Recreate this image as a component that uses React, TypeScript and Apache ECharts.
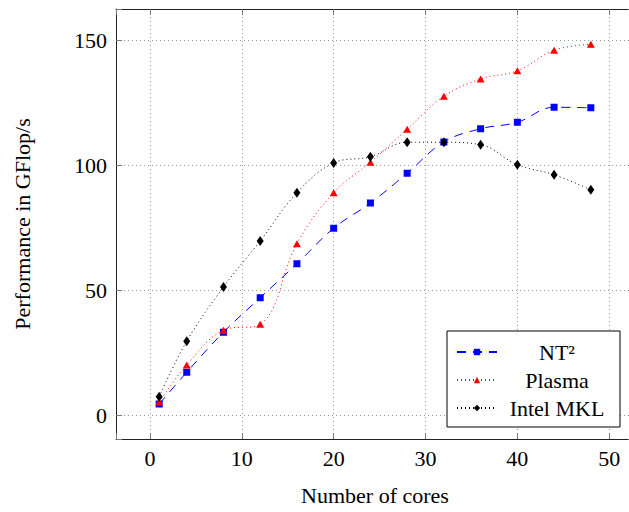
import React, { useEffect, useRef } from "react";
import * as echarts from "echarts";

const cores = [1, 4, 8, 12, 16, 20, 24, 28, 32, 36, 40, 44, 48];
const nt2 = [4.5, 17.2, 33.2, 47.0, 60.6, 74.8, 84.9, 96.8, 109.3, 114.6, 117.2, 123.2, 123.0];
const plasma = [5.3, 20.1, 34.0, 36.4, 68.6, 89.0, 101.2, 114.4, 127.6, 134.5, 137.8, 146.0, 148.4];
const mkl = [7.4, 29.6, 51.3, 69.7, 89.0, 100.9, 103.4, 109.2, 109.2, 108.2, 100.2, 96.2, 90.2];
const seriesNames = ["NT²", "Plasma", "Intel MKL"];

const FONT = "Liberation Serif";

export default function App() {
  const ref = useRef<HTMLDivElement>(null);
  useEffect(() => {
    if (!ref.current) return;
    const chart = echarts.init(ref.current, undefined, { renderer: "svg" });
    const pairs = (ys: number[]) => cores.map((c, i) => [c, ys[i]]);
    const xMin = -3.7, xMax = 52.7, yMin = -9.5, yMax = 162.5;
    const fmt = (step: number) => (v: number) =>
      Math.abs(v / step - Math.round(v / step)) < 1e-6 ? String(Math.round(v)) : "";
    const tick = { show: true, inside: true, length: 6, lineStyle: { color: "#777", width: 1 } };
    const axLine = { show: true, onZero: false, lineStyle: { color: "#222", width: 1 } };
    const grid = { show: true, lineStyle: { type: [1, 3], color: "#999", width: 1 } };
    chart.setOption({
      animation: false,
      backgroundColor: "#fff",
      textStyle: { fontFamily: FONT },
      grid: { left: 116, top: 9, width: 518, height: 430, containLabel: false, outerBoundsMode: "none" },
      xAxis: [
        {
          type: "value", position: "bottom", min: xMin, max: xMax,
          splitNumber: 5, minInterval: 10, maxInterval: 10,
          axisLine: axLine, axisTick: tick, splitLine: grid,
          axisLabel: { formatter: fmt(10), fontSize: 22, color: "#000", margin: 8, fontFamily: FONT },
          name: "Number of cores", nameLocation: "middle", nameGap: 45,
          nameTextStyle: { fontSize: 22, color: "#000", fontFamily: FONT },
        },
        {
          type: "value", position: "top", min: xMin, max: xMax,
          splitNumber: 5, minInterval: 10, maxInterval: 10,
          axisLine: axLine, axisTick: tick, splitLine: { show: false },
          axisLabel: { show: false },
        },
      ],
      yAxis: [
        {
          type: "value", position: "left", min: yMin, max: yMax,
          splitNumber: 3, minInterval: 50, maxInterval: 50,
          axisLine: axLine, axisTick: tick, splitLine: grid,
          axisLabel: { formatter: fmt(50), fontSize: 22, color: "#000", margin: 9, fontFamily: FONT },
          name: "Performance in GFlop/s", nameLocation: "middle", nameGap: 83,
          nameTextStyle: { fontSize: 22, color: "#000", fontFamily: FONT },
        },
        {
          type: "value", position: "right", min: yMin, max: yMax,
          splitNumber: 3, minInterval: 50, maxInterval: 50,
          axisLine: axLine, axisTick: tick, splitLine: { show: false },
          axisLabel: { show: false },
        },
      ],
      legend: {
        orient: "vertical", left: 447, top: 331,
        padding: [10, 8, 8, 9], itemGap: 6, itemWidth: 40, itemHeight: 8,
        borderColor: "#000", borderWidth: 1, backgroundColor: "#fff", borderRadius: 0,
        selectedMode: false,
        data: seriesNames,
        formatter: "{a|{name}}",
        textStyle: {
          rich: { a: { width: 110, align: "center", fontSize: 22, fontFamily: FONT, color: "#000", lineHeight: 22 } },
        },
      },
      series: [
        {
          type: "line", name: seriesNames[0], data: pairs(nt2), smooth: 0.4,
          symbol: "rect", symbolSize: 7, color: "#0000ff",
          lineStyle: { color: "#0000ff", width: 1, type: [9, 7] },
          itemStyle: { color: "#0000ff" },
        },
        {
          type: "line", name: seriesNames[1], data: pairs(plasma), smooth: 0.4,
          symbol: "triangle", symbolSize: [8, 7], color: "#ff0000",
          lineStyle: { color: "#ff0000", width: 1, type: [1, 3] },
          itemStyle: { color: "#ff0000" },
        },
        {
          type: "line", name: seriesNames[2], data: pairs(mkl), smooth: 0.4,
          symbol: "diamond", symbolSize: [7, 10], color: "#000",
          lineStyle: { color: "#000", width: 1, type: [1, 3] },
          itemStyle: { color: "#000" },
        },
      ],
    });
    return () => chart.dispose();
  }, []);
  return (
    <div
      ref={ref}
      style={{ position: "absolute", left: 0, top: 0, width: 629, height: 512, background: "#fff" }}
    />
  );
}
